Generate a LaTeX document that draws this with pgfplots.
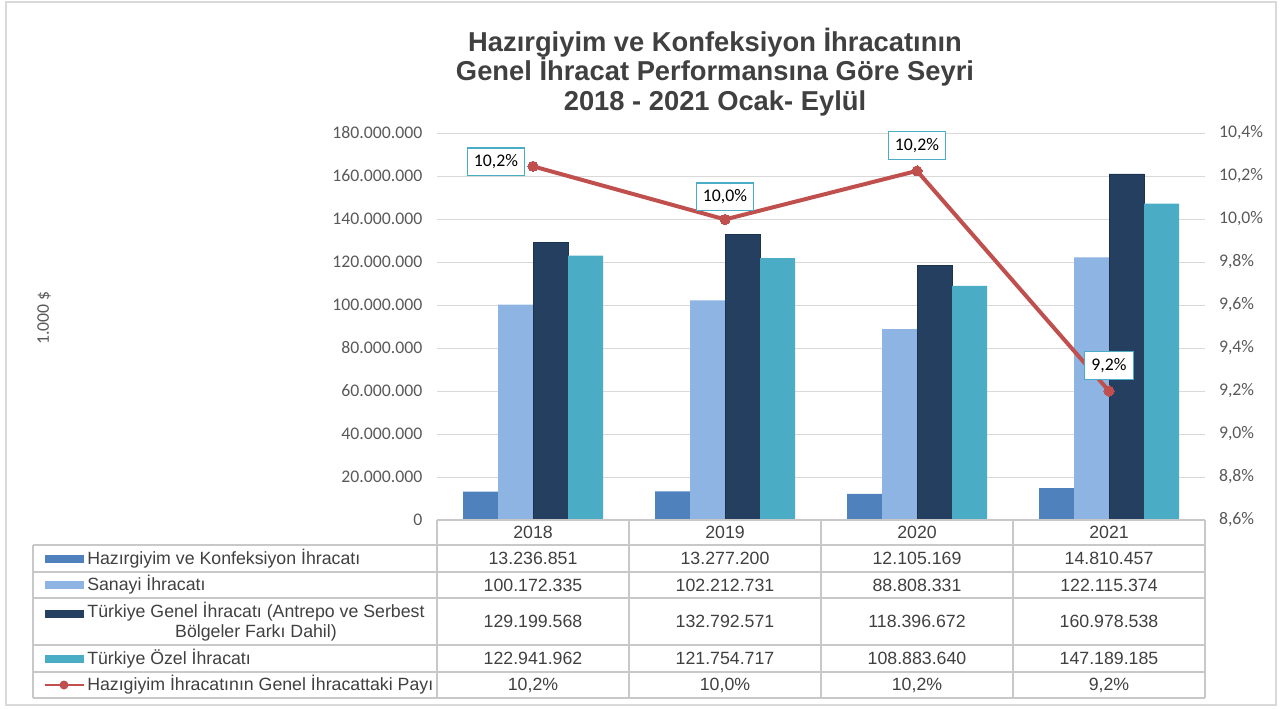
\documentclass[border=0pt]{standalone}
\usepackage{pgfplots}
\pgfplotsset{compat=1.18}
\usepackage{pgfplotstable}
\usepackage{fontspec}
\setmainfont{Liberation Sans}
\newfontfamily\calibri{Carlito}
\definecolor{cHaz}{HTML}{4F81BD}
\definecolor{cSan}{HTML}{8EB4E3}
\definecolor{cGen}{HTML}{243F60}
\definecolor{cOzel}{HTML}{4BACC6}
\definecolor{cLine}{HTML}{C0504D}
\definecolor{tickc}{HTML}{595959}
\definecolor{titlec}{HTML}{404040}
\definecolor{gridc}{HTML}{D9D9D9}
\definecolor{tablec}{HTML}{C8C8C8}
\newcommand\tf{\fontsize{13.3}{15}\selectfont}
\newcommand\cf{\calibri\fontsize{13.3}{15}\selectfont}

\pgfplotstableread{
x y
0 13236851
1 13277200
2 12105169
3 14810457
}\tHaz
\pgfplotstableread{
x y
0 100172335
1 102212731
2 88808331
3 122115374
}\tSan
\pgfplotstableread{
x y
0 129199568
1 132792571
2 118396672
3 160978538
}\tGen
\pgfplotstableread{
x y
0 122941962
1 121754717
2 108883640
3 147189185
}\tOzel
\pgfplotstableread{
x y dx dy
0 10.245 -27.75 3.4
1 9.998 0 17
2 10.224 0 19
3 9.200 0 19
}\tPay

\begin{document}
\begin{tikzpicture}
\begin{axis}[
  at={(327.75pt,-390pt)}, anchor=south west,
  scale only axis, width=576pt, height=290.25pt,
  xmin=-0.5, xmax=3.5, ymin=0, ymax=180000000,
  ybar=0pt, bar width=26.25pt,
  xtick=\empty,
  scaled y ticks=false,
  ytick={0,20000000,40000000,60000000,80000000,100000000,120000000,140000000,160000000,180000000},
  yticklabels={0,20.000.000,40.000.000,60.000.000,80.000.000,100.000.000,120.000.000,140.000.000,160.000.000,180.000.000},
  yticklabel style={font=\cf, text=tickc, anchor=east, xshift=-7.5pt},
  ymajorgrids, grid style={gridc, line width=0.75pt},
  axis line style={draw=none},
  major tick length=0pt,
  clip=false,
]
\addplot[fill=cHaz, draw=none] table[x=x,y=y] {\tHaz};
\addplot[fill=cSan, draw=none] table[x=x,y=y] {\tSan};
\addplot[fill=cGen, draw=cGen!80!black, line width=0.5pt] table[x=x,y=y] {\tGen};
\addplot[fill=cOzel, draw=none] table[x=x,y=y] {\tOzel};
\end{axis}
\begin{axis}[
  at={(327.75pt,-390pt)}, anchor=south west,
  scale only axis, width=576pt, height=290.25pt,
  xmin=-0.5, xmax=3.5, ymin=8.6, ymax=10.4,
  xtick=\empty,
  scaled y ticks=false,
  ytick={8.6,8.8,9.0,9.2,9.4,9.6,9.8,10.0,10.2,10.4},
  yticklabels={{8,6\%},{8,8\%},{9,0\%},{9,2\%},{9,4\%},{9,6\%},{9,8\%},{10,0\%},{10,2\%},{10,4\%}},
  yticklabel pos=right,
  yticklabel style={font=\cf, text=tickc, anchor=west, xshift=7pt},
  axis line style={draw=none},
  major tick length=0pt,
  clip=false,
]
\addplot[cLine, line width=3pt, mark=*, mark size=3.8pt, mark options={fill=cLine, draw=cLine, line width=0pt},
  visualization depends on={\thisrow{dx} \as \dx},
  visualization depends on={\thisrow{dy} \as \dy},
  nodes near coords={\pgfmathprintnumber[assume math mode=true, fixed, fixed zerofill, precision=1, use comma]{\pgfplotspointmeta}\%},
  every node near coord/.append style={font=\cf, text=black, anchor=center, xshift=\dx pt, yshift=\dy pt,
     fill=white, draw=cOzel, line width=0.9pt, inner xsep=5pt, inner ysep=5pt},
] table[x=x,y=y] {\tPay};
\end{axis}
\begin{scope}[x=0.75pt,y=-0.75pt]
\path (0,0) rectangle (1280,708);
\draw[gridc, line width=0.9pt] (6,2) rectangle (1276,705);
% title
\node[align=center, font=\bfseries\fontsize{20.5}{22}\selectfont, text=titlec] at (715,72)
  {Hazırgiyim ve Konfeksiyon İhracatının\\Genel İhracat Performansına Göre Seyri\\2018 - 2021 Ocak- Eylül};
\node[rotate=90, font=\cf, text=tickc] at (44,318) {1.000 \$};
% table grid
\draw[tablec, line width=0.8pt] (437,520) -- (1205,520);
\foreach \y in {545,572,598,645,672,698} \draw[tablec, line width=0.8pt] (33,\y) -- (1205,\y);
\draw[tablec, line width=0.8pt] (33,545) -- (33,698);
\foreach \x in {437,629,821,1013,1205} \draw[tablec, line width=0.8pt] (\x,520) -- (\x,698);
% header
\foreach \x/\t in {533/2018,725/2019,917/2020,1109/2021}
  \node[font=\tf, text=titlec] at (\x,532.5) {\t};
% data rows
\foreach \x/\t in {533/13.236.851,725/13.277.200,917/12.105.169,1109/14.810.457}
  \node[font=\tf, text=titlec] at (\x,558.5) {\t};
\foreach \x/\t in {533/100.172.335,725/102.212.731,917/88.808.331,1109/122.115.374}
  \node[font=\tf, text=titlec] at (\x,585) {\t};
\foreach \x/\t in {533/129.199.568,725/132.792.571,917/118.396.672,1109/160.978.538}
  \node[font=\tf, text=titlec] at (\x,621.5) {\t};
\foreach \x/\t in {533/122.941.962,725/121.754.717,917/108.883.640,1109/147.189.185}
  \node[font=\tf, text=titlec] at (\x,658.5) {\t};
\node[font=\tf, text=titlec] at (533,685) {10,2\%};
\node[font=\tf, text=titlec] at (725,685) {10,0\%};
\node[font=\tf, text=titlec] at (917,685) {10,2\%};
\node[font=\tf, text=titlec] at (1109,685) {9,2\%};
% legend keys
\fill[cHaz] (45,554.5) rectangle (84,562.5);
\fill[cSan] (45,581) rectangle (84,589);
\fill[cGen] (45,609.5) rectangle (84,617.5);
\fill[cOzel] (45,654.5) rectangle (84,662.5);
\draw[cLine, line width=2.2pt] (45,685) -- (84,685);
\fill[cLine] (64,685) circle (4.5);
% legend text
\node[font=\tf, text=titlec, anchor=west, inner sep=0] at (87,558.5) {Hazırgiyim ve Konfeksiyon İhracatı};
\node[font=\tf, text=titlec, anchor=west, inner sep=0] at (87,585) {Sanayi İhracatı};
\node[text=titlec, align=center, inner sep=0, font={\fontsize{13.3}{15.5}\selectfont}] at (256,621.5) {Türkiye Genel İhracatı (Antrepo ve Serbest\\Bölgeler Farkı Dahil)};
\node[font=\tf, text=titlec, anchor=west, inner sep=0] at (87,658.5) {Türkiye Özel İhracatı};
\node[font=\tf, text=titlec, anchor=west, inner sep=0] at (87,685) {Hazıgiyim İhracatının Genel İhracattaki Payı};
\end{scope}
\end{tikzpicture}
\end{document}
